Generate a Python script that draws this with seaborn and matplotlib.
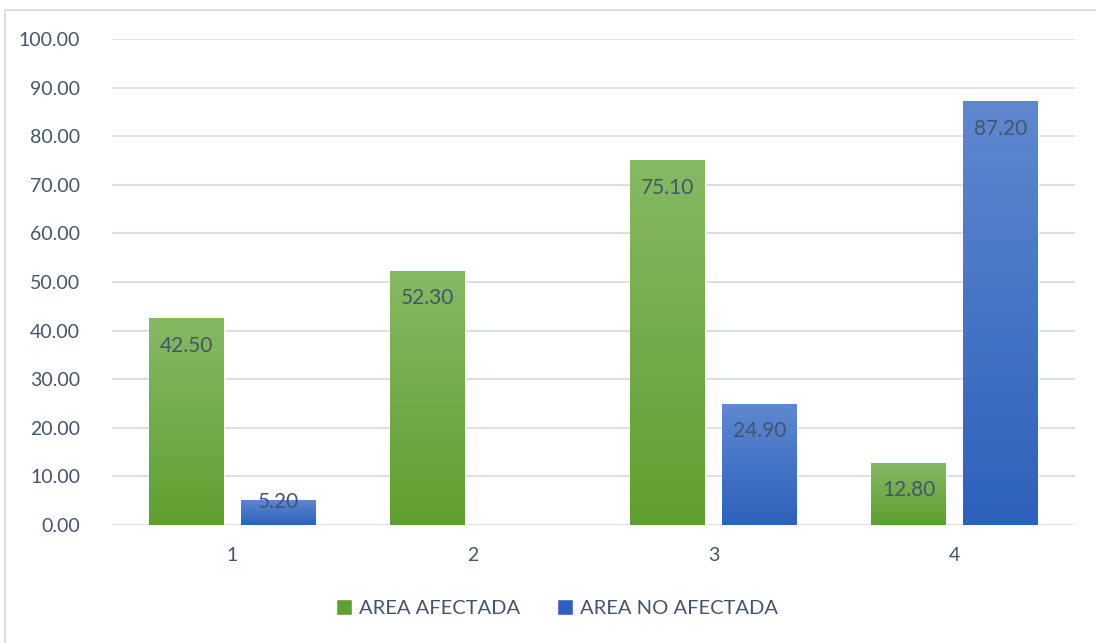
import numpy as np
import pandas as pd
import matplotlib
matplotlib.use("Agg")
import matplotlib.pyplot as plt
from matplotlib.colors import LinearSegmentedColormap
from matplotlib.lines import Line2D
from matplotlib.patches import Rectangle
import seaborn as sns

categories = ["1", "2", "3", "4"]
series_names = ["AREA AFECTADA", "AREA NO AFECTADA"]
area_afectada = [42.50, 52.30, 75.10, 12.80]
area_no_afectada = [5.20, np.nan, 24.90, 87.20]
y_ticks = [0, 10, 20, 30, 40, 50, 60, 70, 80, 90, 100]

df = pd.DataFrame({
    "cat": categories * 2,
    "serie": [series_names[0]] * 4 + [series_names[1]] * 4,
    "valor": area_afectada + area_no_afectada,
})

sns.set_theme(style="white")
plt.rcParams["font.family"] = ["Lato", "DejaVu Sans"]

text_color = "#44546a"
grid_color = "#d9dde3"
green_top, green_bottom = "#86b964", "#5f9f2f"
blue_top, blue_bottom = "#5f88d0", "#2d61bb"

fig = plt.figure(figsize=(10.96, 6.43), dpi=100)
ax = fig.add_axes([112 / 1096, 1 - 525 / 643, (1075 - 112) / 1096, (525 - 39) / 643])

sns.barplot(data=df, x="cat", y="valor", hue="serie", order=categories,
            hue_order=series_names, palette=[green_bottom, blue_bottom],
            saturation=1, width=0.764, gap=0.185, errorbar=None, legend=False,
            ax=ax, zorder=2)

ax.set_xlim(-0.5, 3.5)
ax.set_ylim(0, 100)
ax.set_yticks(y_ticks)
ax.set_yticklabels([f"{v:.2f}" for v in y_ticks])
ax.set_xlabel("")
ax.set_ylabel("")
for s in ax.spines.values():
    s.set_visible(False)
ax.grid(axis="y", color=grid_color, linewidth=1.3, zorder=0)
ax.set_axisbelow(True)
ax.tick_params(axis="y", length=0, pad=23, labelsize=14, labelcolor=text_color)
ax.tick_params(axis="x", length=0, pad=16, labelsize=14, labelcolor=text_color)

# vertical gradient fill inside each bar, with its value near the top
grad = np.linspace(0, 1, 256).reshape(-1, 1)
cmaps = [LinearSegmentedColormap.from_list("g", [green_bottom, green_top]),
         LinearSegmentedColormap.from_list("b", [blue_bottom, blue_top])]
for container, cmap in zip(ax.containers, cmaps):
    for bar in container:
        h = bar.get_height()
        if not np.isfinite(h) or h <= 0:
            continue
        x0, w = bar.get_x(), bar.get_width()
        im = ax.imshow(grad, cmap=cmap, origin="lower", aspect="auto",
                       extent=[x0, x0 + w, 0, h], zorder=2.5)
        im.set_clip_path(bar)
        label_top = h - 3.6 if h > 10 else h + 1.6
        ax.text(x0 + w / 2, label_top, f"{h:.2f}", ha="center", va="top",
                fontsize=15, color=text_color, zorder=3)

ax.set_xlim(-0.5, 3.5)
ax.set_ylim(0, 100)

# legend
handles = [Rectangle((0, 0), 1, 1, facecolor=green_bottom),
           Rectangle((0, 0), 1, 1, facecolor=blue_bottom)]
fig.legend(handles, series_names, loc="center", bbox_to_anchor=(557 / 1096, 1 - 608 / 643),
           ncol=2, frameon=False, fontsize=14.5, labelcolor=text_color,
           handlelength=0.8, handleheight=0.8, handletextpad=0.35, columnspacing=1.8)

# chart frame
fig.add_artist(Line2D([5 / 1096, 5 / 1096], [0, 1 - 10 / 643], transform=fig.transFigure,
                      color="#d9d9d9", linewidth=1.2))
fig.add_artist(Line2D([5 / 1096, 1], [1 - 10 / 643, 1 - 10 / 643], transform=fig.transFigure,
                      color="#d9d9d9", linewidth=1.2))

fig.savefig("out.png", dpi=100)
